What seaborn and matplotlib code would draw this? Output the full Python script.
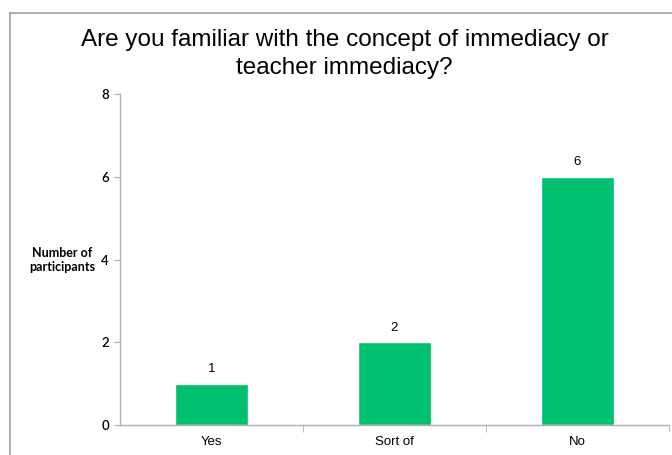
import seaborn as sns
import matplotlib.pyplot as plt
import pandas as pd
from matplotlib.lines import Line2D

# data
answers = ["Yes", "Sort of", "No"]
participants = [1, 2, 6]

df = pd.DataFrame({"Answer": answers, "Participants": participants})

sns.set_style("white")
plt.rcParams["font.family"] = ["Liberation Sans", "DejaVu Sans"]
plt.rcParams["text.color"] = "black"
plt.rcParams["xtick.color"] = "black"
plt.rcParams["ytick.color"] = "black"

fig = plt.figure(figsize=(6.72, 4.55), dpi=100)
ax = fig.add_axes([0.1786, 0.0659, 0.8169, 0.7275])

sns.barplot(data=df, x="Answer", y="Participants", color="#00BF6F",
            width=0.4, saturation=1, ax=ax)

ax.set_ylim(0, 8)
ax.set_xlim(-0.5, 2.5)
ax.set_yticks([0, 2, 4, 6, 8])
ax.set_xlabel("")
ax.set_ylabel("Number of\nparticipants", rotation=0, fontsize=9, fontweight="bold",
              family=["Lato", "DejaVu Sans"], ha="center", va="center", labelpad=0,
              color="black")
ax.yaxis.set_label_coords(-0.105, 0.5)

for s in ["top", "right"]:
    ax.spines[s].set_visible(False)
for s in ["left", "bottom"]:
    ax.spines[s].set_color("#b0b0b0")
    ax.spines[s].set_linewidth(1)

ax.tick_params(axis="y", left=True, length=4, color="#b0b0b0", labelcolor="black",
               labelsize=9.5, pad=4)
for lab in ax.get_yticklabels():
    lab.set_family(["Lato", "DejaVu Sans"])
    lab.set_fontweight("semibold")
ax.set_xticks([0.5, 1.5, 2.5], minor=True)
ax.tick_params(axis="x", which="minor", bottom=True, length=5, color="#b0b0b0")
ax.tick_params(axis="x", which="major", bottom=False, length=0, labelsize=9.5, pad=8,
               labelcolor="black")

for c in ax.containers:
    ax.bar_label(c, fontsize=9.5, padding=6, color="black")

fig.text(0.513, 0.882, "Are you familiar with the concept of immediacy or\nteacher immediacy?",
         ha="center", va="center", fontsize=17.5, linespacing=1.35, color="black")

# outer frame of the slide
fig.add_artist(Line2D([10 / 672, 1], [1 - 13 / 455] * 2, color="#a0a0a0", lw=1.2,
                      transform=fig.transFigure))
fig.add_artist(Line2D([10 / 672] * 2, [0, 1 - 13 / 455], color="#a0a0a0", lw=1.2,
                      transform=fig.transFigure))

fig.savefig("out.png", dpi=100)
